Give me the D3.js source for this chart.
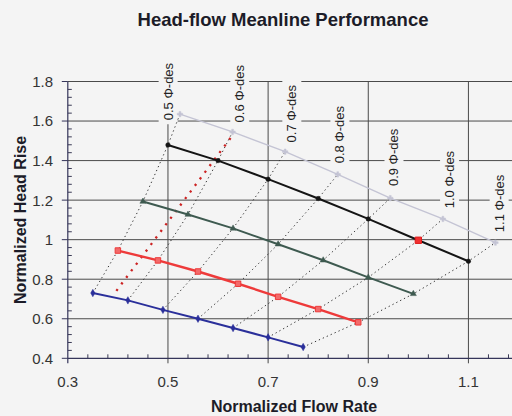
<!DOCTYPE html>
<html><head><meta charset="utf-8">
<script src="https://cdn.jsdelivr.net/npm/d3@7"></script>
<style>
html,body{margin:0;padding:0;background:#f4f4f4;}
svg{display:block;font-family:"Liberation Sans",Arial,sans-serif;}
</style></head>
<body>
<svg id="chart" width="512" height="416"></svg>
<script>
// ---- data ----
const fractions = [0.5, 0.6, 0.7, 0.8, 0.9, 1.0, 1.1];
const fractionLabels = ["0.5 Φ-des","0.6 Φ-des","0.7 Φ-des","0.8 Φ-des","0.9 Φ-des","1.0 Φ-des","1.1 Φ-des"];
const blueX  = [0.35, 0.42, 0.49, 0.56, 0.63, 0.70, 0.77];
const blueY  = [0.730, 0.693, 0.645, 0.600, 0.553, 0.506, 0.457];
const redX   = [0.40, 0.48, 0.56, 0.64, 0.72, 0.80, 0.88];
const redY   = [0.945, 0.895, 0.839, 0.777, 0.711, 0.649, 0.582];
const greenX = [0.45, 0.54, 0.63, 0.72, 0.81, 0.90, 0.99];
const greenY = [1.193, 1.127, 1.057, 0.977, 0.896, 0.809, 0.726];
const blackX = [0.50, 0.60, 0.70, 0.80, 0.90, 1.00, 1.10];
const blackY = [1.479, 1.400, 1.306, 1.208, 1.105, 0.997, 0.891];
const grayX  = [0.524, 0.629, 0.734, 0.839, 0.944, 1.049, 1.154];
const grayY  = [1.635, 1.545, 1.445, 1.330, 1.210, 1.105, 0.985];
const surgeX = [0.397, 0.627];
const surgeY = [0.741, 1.521];
const designX = [1.0];
const designY = [0.997];
const labelX = [0.500, 0.643, 0.747, 0.843, 0.951, 1.062, 1.161];
const labelY = [1.604, 1.593, 1.492, 1.386, 1.271, 1.159, 1.038];
const xTicks = [0.3, 0.5, 0.7, 0.9, 1.1];
const yTicks = [0.4, 0.6, 0.8, 1.0, 1.2, 1.4, 1.6, 1.8];
const yTickLabels = ["0.4","0.6","0.8","1","1.2","1.4","1.6","1.8"];

// ---- scales ----
const svg = d3.select("#chart");
const bg = "#f4f4f4";
const x = d3.scaleLinear().domain([0.3, 1.2]).range([67.8, 518.5]);
const y = d3.scaleLinear().domain([0.4, 1.8]).range([358.3, 81.5]);

// gridlines
const grid = svg.append("g");
grid.selectAll(".hg").data(yTicks.slice(1)).join("line")
  .attr("x1", x(0.3)).attr("x2", 512).attr("y1", d => y(d)).attr("y2", d => y(d))
  .attr("stroke", "#4a4a4a").attr("stroke-width", 1);
grid.selectAll(".vg").data(xTicks.slice(1)).join("line")
  .attr("x1", d => x(d)).attr("x2", d => x(d)).attr("y1", y(1.8)).attr("y2", y(0.4) + 5)
  .attr("stroke", "#4a4a4a").attr("stroke-width", 1);

// minor ticks
const minorX = d3.range(0.3, 1.2001, 0.04).filter(v => !xTicks.some(t => Math.abs(t - v) < 1e-6));
grid.selectAll(".mx").data(minorX).join("line")
  .attr("x1", d => x(d)).attr("x2", d => x(d)).attr("y1", y(0.4)).attr("y2", y(0.4) - 4)
  .attr("stroke", "#3a3a55");
const minorY = d3.range(0.4, 1.8001, 0.04).filter(v => !yTicks.some(t => Math.abs(t - v) < 1e-6));
grid.selectAll(".my").data(minorY).join("line")
  .attr("x1", x(0.3)).attr("x2", x(0.3) + 4).attr("y1", d => y(d)).attr("y2", d => y(d))
  .attr("stroke", "#3a3a55");

// axes lines
svg.append("line").attr("x1", x(0.3)).attr("x2", 512).attr("y1", y(0.4)).attr("y2", y(0.4))
  .attr("stroke", "#35355a").attr("stroke-width", 1.2);
svg.append("line").attr("x1", x(0.3)).attr("x2", x(0.3)).attr("y1", y(1.8)).attr("y2", y(0.4) + 5)
  .attr("stroke", "#35355a").attr("stroke-width", 1.2);
// major ticks on y axis (outside)
svg.selectAll(".yt").data(yTicks).join("line")
  .attr("x1", x(0.3) - 6).attr("x2", x(0.3)).attr("y1", d => y(d)).attr("y2", d => y(d))
  .attr("stroke", "#35355a");

// tick labels
svg.selectAll(".xl").data(xTicks).join("text")
  .attr("x", d => x(d)).attr("y", 387).attr("text-anchor", "middle")
  .attr("font-size", 15).attr("fill", "#333").text(d => d3.format(".1f")(d));
svg.selectAll(".yl").data(yTicks).join("text")
  .attr("x", 53).attr("y", d => y(d)).attr("dy", "0.36em").attr("text-anchor", "end")
  .attr("font-size", 15).attr("fill", "#333").text((d, i) => yTickLabels[i]);

// label boxes (background patches behind fraction labels)
const labG = svg.append("g");
fractionLabels.forEach((t, i) => {
  const g = labG.append("g").attr("transform", `translate(${x(labelX[i])},${y(labelY[i])}) rotate(-90)`);
  const txt = g.append("text").attr("x", 0).attr("y", 0).attr("dy", "0.36em")
    .attr("font-size", 13).attr("fill", "#222").text(t);
  const bb = txt.node().getBBox();
  g.insert("rect", "text").attr("x", bb.x - 4).attr("y", bb.y - 2)
    .attr("width", bb.width + 8).attr("height", bb.height + 4).attr("fill", bg);
});

// dotted constant-fraction lines
const series = [[blueX, blueY], [redX, redY], [greenX, greenY], [blackX, blackY], [grayX, grayY]];
const line = d3.line().x(d => x(d[0])).y(d => y(d[1]));
fractions.forEach((f, i) => {
  const pts = series.map(s => [s[0][i], s[1][i]]);
  svg.append("path").attr("d", line(pts)).attr("fill", "none")
    .attr("stroke", "#333").attr("stroke-width", 1).attr("stroke-dasharray", "1.3,3");
});

// red dotted surge line
svg.append("path").attr("d", line(surgeX.map((v, i) => [v, surgeY[i]])))
  .attr("fill", "none").attr("stroke", "#cc2222").attr("stroke-width", 2.3)
  .attr("stroke-dasharray", "2.2,6");

// speed lines
const styles = [
  {xs: blueX, ys: blueY, c: "#2a2f9a", w: 2, m: "diamond"},
  {xs: redX, ys: redY, c: "#ee3a3a", w: 2.4, m: "square"},
  {xs: greenX, ys: greenY, c: "#3e5a50", w: 2, m: "triangle"},
  {xs: blackX, ys: blackY, c: "#141414", w: 2, m: "circle"},
  {xs: grayX, ys: grayY, c: "#c4c4d4", w: 1.4, m: "cross"}
];
const sym = {diamond: d3.symbolDiamond, square: d3.symbolSquare, triangle: d3.symbolTriangle, circle: d3.symbolCircle, cross: d3.symbolCross};
styles.forEach(s => {
  const pts = s.xs.map((v, i) => [v, s.ys[i]]);
  svg.append("path").attr("d", line(pts)).attr("fill", "none")
    .attr("stroke", s.c).attr("stroke-width", s.w);
  const size = s.m === "square" ? 30 : 16;
  svg.selectAll(null).data(pts).join("path")
    .attr("transform", d => `translate(${x(d[0])},${y(d[1])})`)
    .attr("d", d3.symbol().type(sym[s.m]).size(size))
    .attr("fill", s.m === "square" ? "#f26a6a" : s.c)
    .attr("stroke", s.c).attr("stroke-width", s.m === "square" ? 1 : 0.5);
});
// design point
svg.selectAll(null).data(designX.map((v, i) => [v, designY[i]])).join("path")
  .attr("transform", d => `translate(${x(d[0])},${y(d[1])})`)
  .attr("d", d3.symbol().type(d3.symbolSquare).size(40))
  .attr("fill", "#f03030").attr("stroke", "#e01818");

// titles
svg.append("text").attr("x", 283).attr("y", 26).attr("text-anchor", "middle")
  .attr("font-size", 18.5).attr("font-weight", "bold").attr("fill", "#1c1c28")
  .text("Head-flow Meanline Performance");
svg.append("text").attr("x", 294).attr("y", 412).attr("text-anchor", "middle")
  .attr("font-size", 16).attr("font-weight", "bold").attr("fill", "#1c1c28")
  .text("Normalized Flow Rate");
svg.append("text").attr("transform", `translate(26,${(y(0.4) + y(1.8)) / 2}) rotate(-90)`)
  .attr("text-anchor", "middle")
  .attr("font-size", 16).attr("font-weight", "bold").attr("fill", "#1c1c28")
  .text("Normalized Head Rise");
</script>
</body></html>
